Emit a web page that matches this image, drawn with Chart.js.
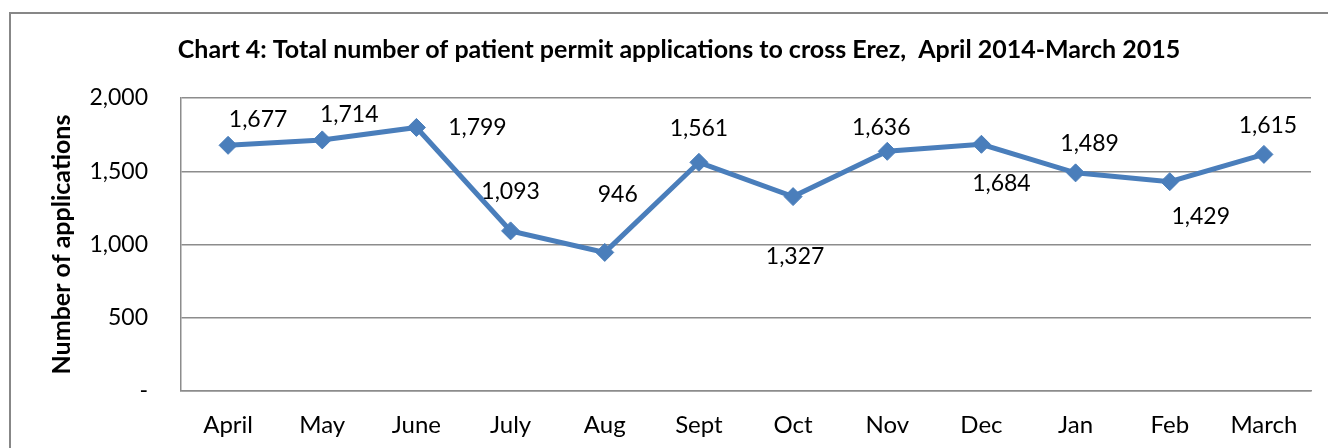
<!DOCTYPE html>
<html>
<head>
<meta charset="utf-8">
<script src="https://cdn.jsdelivr.net/npm/chart.js@4"></script>
<style>
  html, body { margin: 0; padding: 0; background: #fff; }
  #wrap { width: 1328px; height: 448px; position: relative; }
</style>
</head>
<body>
<div id="wrap"><canvas id="permitChart"></canvas></div>
<script>
const months = ['April', 'May', 'June', 'July', 'Aug', 'Sept', 'Oct', 'Nov', 'Dec', 'Jan', 'Feb', 'March'];
const applications = [1677, 1714, 1799, 1093, 946, 1561, 1327, 1636, 1684, 1489, 1429, 1615];
const yTicks = [0, 500, 1000, 1500, 2000];

// where each value label sits relative to its point (pixels)
const labelShift = [[30, -26], [27, -25], [61, 0], [0, -39], [13, -58], [0, -34],
                    [2, 60], [-6, -24], [20, 39], [14, -29], [31, 35], [4, -29]];

const FONT = 'Lato, "Open Sans", sans-serif';

const frame = {
    id: 'frame',
    beforeDraw(chart) {
        const c = chart.ctx;
        c.save();
        c.fillStyle = '#fff';
        c.fillRect(0, 0, chart.width, chart.height);
        c.strokeStyle = '#878787';
        c.lineWidth = 2;
        c.strokeRect(10, 13, chart.width + 20, chart.height + 20);
        c.restore();
    }
};

const valueLabels = {
    id: 'valueLabels',
    afterDatasetsDraw(chart) {
        const c = chart.ctx;
        const pts = chart.getDatasetMeta(0).data;
        c.save();
        c.font = '23px ' + FONT;
        c.fillStyle = '#000';
        c.textAlign = 'center';
        c.textBaseline = 'middle';
        pts.forEach(function (p, i) {
            c.fillText(applications[i].toLocaleString('en-US'), p.x + labelShift[i][0], p.y + labelShift[i][1]);
        });
        c.restore();
    }
};

new Chart(document.getElementById('permitChart'), {
    type: 'line',
    data: {
        labels: months,
        datasets: [{
            data: applications,
            borderColor: '#4a7ebb',
            backgroundColor: '#4a7ebb',
            borderWidth: 5,
            pointStyle: 'rectRot',
            pointRadius: 9,
            pointBorderWidth: 1,
            pointBackgroundColor: '#4a7ebb',
            pointBorderColor: '#4a7ebb',
            tension: 0,
            fill: false
        }]
    },
    options: {
        responsive: true,
        maintainAspectRatio: false,
        animation: false,
        layout: { padding: { left: 47, right: 17, top: 0, bottom: 0 } },
        plugins: {
            legend: { display: false },
            tooltip: { enabled: false },
            title: {
                display: true,
                text: 'Chart 4: Total number of patient permit applications to cross Erez,  April 2014-March 2015',
                color: '#000',
                font: { family: FONT, size: 25, weight: 'bold' },
                padding: { top: 35, bottom: 33 }
            }
        },
        scales: {
            x: {
                offset: true,
                afterFit(scale) { scale.height = 57; },
                grid: { display: false, drawTicks: false },
                border: { display: true, color: '#8c8c8c', width: 1.5 },
                ticks: { color: '#000', font: { family: FONT, size: 24 }, padding: 20, maxRotation: 0 }
            },
            y: {
                min: 0,
                max: 2000,
                afterBuildTicks(scale) {
                    scale.ticks = yTicks.map(function (v) { return { value: v }; });
                },
                afterFit(scale) { scale.width = 134; },
                grid: { color: '#8c8c8c', lineWidth: 1.5, drawTicks: false },
                border: { display: true, color: '#8c8c8c', width: 1.5 },
                ticks: {
                    color: '#000',
                    font: { family: FONT, size: 23 },
                    padding: 33,
                    callback: function (v) { return v === 0 ? '-' : v.toLocaleString('en-US'); }
                },
                title: {
                    display: true,
                    text: 'Number of applications',
                    color: '#000',
                    font: { family: FONT, size: 25, weight: 'bold' },
                    padding: { top: 0, bottom: 0 }
                }
            }
        }
    },
    plugins: [frame, valueLabels]
});
</script>
</body>
</html>
